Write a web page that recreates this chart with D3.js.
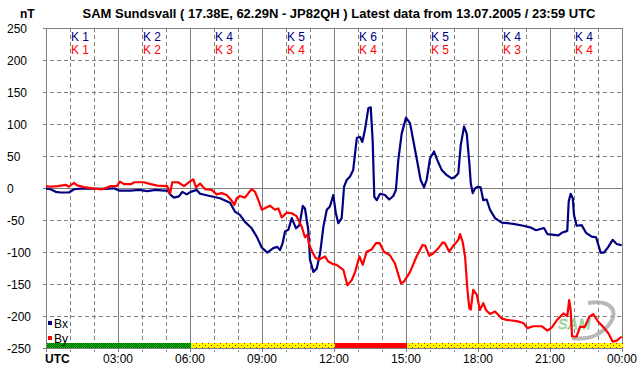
<!DOCTYPE html>
<html>
<head>
<meta charset="utf-8">
<script src="https://cdn.jsdelivr.net/npm/d3@7"></script>
<style>
  body { margin: 0; background: #fff; }
  text { font-family: Arial, "Liberation Sans", sans-serif; }
</style>
</head>
<body>
<script>
var bxHours = [0,0.19,0.4,0.61,0.96,1.17,1.44,1.86,2.35,2.83,3.04,3.52,3.88,4.22,4.57,4.92,5.08,5.17,5.33,5.54,5.68,5.86,
  6.03,6.28,6.42,6.83,7.25,7.67,7.875,8.08,8.29,8.57,8.78,8.99,9.22,9.47,9.64,9.75,9.86,9.96,10.1,10.24,10.42,10.56,10.7,10.79,10.93,
  11.0,11.14,11.28,11.42,11.56,11.7,11.83,11.97,12.08,12.18,12.32,12.42,12.53,12.67,12.8,12.95,13.08,13.18,13.29,13.43,13.53,13.61,
  13.68,13.78,13.92,14.12,14.3,14.47,14.58,14.68,14.82,15.0,15.17,15.3,15.47,15.61,15.75,15.86,16.0,16.17,16.3,16.49,16.7,16.9,
  17.04,17.18,17.28,17.42,17.53,17.64,17.7,17.78,17.88,18.0,18.11,18.22,18.36,18.5,18.71,18.99,19.47,19.89,20.17,20.42,20.75,20.89,
  21.35,21.49,21.72,21.78,21.86,21.95,22.0,22.11,22.32,22.5,22.74,22.92,23.11,23.25,23.43,23.61,23.78,23.99];
var bxValues = [-1,-2,-6,-7,-7,-2,-1,-1,-1.5,-0.5,-4,-4,-3,-5,-3,-4,-4,-10,-15,-13,-6,-10,
  -6,-3,-9,-12.5,-16,-23,-37,-42,-53,-63,-76,-93,-101,-94,-92,-97,-86,-68,-65,-47,-63,-58,-28,-32,-66,
  -112,-131,-126,-102,-60,-34,-29,-11,-40,-55,-47,2,12.5,18,28,78,80,72,91,124.5,126,75,
  -14,-19,-9,-11,-18,-12.5,-3,44,85,110,101,75,41,12.5,1,12.5,46,57,44,28,20,15,
  17,23,67,96,85,38.5,7,-8,-0.5,2,1,-19,-18,-34,-47,-54,-56,-59,-61.5,-66,-62.5,-72,
  -74,-70,-67,-21,-9,-16,-42,-59,-58,-70,-76,-77,-101,-101,-92,-81,-87.5,-89.5];

var byHours = [0,0.22,0.5,0.82,0.95,1.17,1.3,1.58,2.0,2.35,2.69,2.95,3.08,3.25,3.55,3.67,4.08,4.36,4.64,5.05,5.17,5.26,5.5,5.75,
  6.03,6.14,6.25,6.42,6.63,6.9,7.11,7.32,7.53,7.74,7.85,7.95,8.08,8.29,8.57,8.71,8.85,8.99,9.2,9.33,9.54,9.68,9.82,10.03,10.24,10.44,
  10.65,10.79,10.89,10.97,11.11,11.25,11.42,11.63,11.76,11.97,12.11,12.39,12.56,12.74,12.88,13.06,13.2,13.36,13.57,13.75,13.9,
  14.08,14.33,14.54,14.79,14.92,15.17,15.44,15.69,15.8,15.97,16.14,16.35,16.53,16.62,16.8,17.0,17.18,17.25,17.36,17.46,17.56,
  17.64,17.7,17.8,17.95,18.08,18.22,18.33,18.5,18.71,18.99,19.2,19.61,19.89,20.06,20.3,20.65,20.89,21.07,21.3,21.56,21.72,21.8,
  21.86,21.92,22.11,22.25,22.45,22.64,22.8,23.01,23.22,23.43,23.61,23.78,23.99];
var byValues = [3,2,3,5,2,8,4,1.5,-1,-2,3,3,10,6,6,9,9,6,3.6,3,-9,9,9,3,
  11,13.6,1,7,-2,-3,-10,-8,-11,-20,-26.5,-16,-12.5,-15,-1.6,-6,-19,-34,-30,-27.6,-34,-32,-46,-38.5,-39.5,-44,
  -60,-77,-73,-89,-101,-110,-111,-107,-115,-119,-120,-128,-152,-144,-131,-107,-120,-99.5,-96,-86,-86,
  -99.5,-105,-118,-149,-146,-131,-107,-89,-90,-106,-102,-94,-85,-86,-99.5,-89,-81,-72,-84,-107,-159,
  -188,-190,-159,-167,-190.6,-180,-190.6,-197,-193,-204,-206,-208,-211,-219,-216,-216,-223,-218,-206,-196,-200,-175,
  -190.6,-232,-232,-217,-217,-201,-197,-209,-217,-227,-240,-238.5,-232];

var kBx = [1, 2, 4, 5, 6, 5, 4, 4];
var kBy = [1, 2, 3, 4, 4, 5, 3, 4];
var xTickLabels = ["UTC", "03:00", "06:00", "09:00", "12:00", "15:00", "18:00", "21:00", "00:00"];
var yTicks = [250, 200, 150, 100, 50, 0, -50, -100, -150, -200, -250];
var titleText = "SAM Sundsvall ( 17.38E, 62.29N - JP82QH ) Latest data from 13.07.2005 / 23:59 UTC";

function init(){
    var w = 642;
    var h = 376;
    var left = 46, right = 622, top = 28, bottom = 348;
    var grey = "#808080";

    var xScale = d3.scaleLinear().domain([0, 24]).range([left, right]);
    var yScale = d3.scaleLinear().domain([-250, 250]).range([bottom, top]);

    var svg = d3.select("body")
                .append("svg")
                .attr("width", w)
                .attr("height", h);

    var defs = svg.append("defs");
    var pg = defs.append("pattern").attr("id", "greenHatch")
                 .attr("width", 2).attr("height", 2).attr("patternUnits", "userSpaceOnUse");
    pg.append("rect").attr("width", 2).attr("height", 2).attr("fill", "#00c000");
    pg.append("rect").attr("width", 1).attr("height", 1).attr("fill", "#006000");
    pg.append("rect").attr("x", 1).attr("y", 1).attr("width", 1).attr("height", 1).attr("fill", "#006000");
    var py = defs.append("pattern").attr("id", "yellowDots")
                 .attr("width", 6).attr("height", 4).attr("patternUnits", "userSpaceOnUse");
    py.append("rect").attr("width", 6).attr("height", 4).attr("fill", "#ffff00");
    py.append("rect").attr("x", 1).attr("y", 1).attr("width", 1).attr("height", 1).attr("fill", "#ff0000");
    py.append("rect").attr("x", 4).attr("y", 3).attr("width", 1).attr("height", 1).attr("fill", "#ff0000");

    // title
    svg.append("text").attr("x", 339).attr("y", 18)
       .attr("text-anchor", "middle").attr("font-size", 13).attr("font-weight", "bold")
       .text(titleText);
    svg.append("text").attr("x", 20).attr("y", 18)
       .attr("font-size", 12).attr("font-weight", "bold").text("nT");

    // grid
    var hours = d3.range(0, 25);
    svg.append("g").selectAll("line")
       .data(hours.filter(function(d) { return d % 3 !== 0; }))
       .enter().append("line")
       .attr("x1", function(d) { return xScale(d) + 0.5; })
       .attr("x2", function(d) { return xScale(d) + 0.5; })
       .attr("y1", top).attr("y2", bottom + 4)
       .attr("stroke", grey).attr("stroke-dasharray", "4,3");
    svg.append("g").selectAll("line")
       .data(yTicks.filter(function(d) { return d !== 0 && d !== 250 && d !== -250; }))
       .enter().append("line")
       .attr("x1", left - 3).attr("x2", right)
       .attr("y1", function(d) { return yScale(d) + 0.5; })
       .attr("y2", function(d) { return yScale(d) + 0.5; })
       .attr("stroke", grey).attr("stroke-dasharray", "4,3");
    svg.append("g").selectAll("line")
       .data(hours.filter(function(d) { return d % 3 === 0; }))
       .enter().append("line")
       .attr("x1", function(d) { return xScale(d) + 0.5; })
       .attr("x2", function(d) { return xScale(d) + 0.5; })
       .attr("y1", top).attr("y2", bottom + 4)
       .attr("stroke", grey);
    svg.append("g").selectAll("line")
       .data([250, 0, -250])
       .enter().append("line")
       .attr("x1", left - 3).attr("x2", right + 0.5)
       .attr("y1", function(d) { return yScale(d) + 0.5; })
       .attr("y2", function(d) { return yScale(d) + 0.5; })
       .attr("stroke", grey);

    // y labels
    svg.append("g").selectAll("text")
       .data(yTicks).enter().append("text")
       .attr("x", 7).attr("y", function(d) { return yScale(d) + 4.5; })
       .attr("font-size", 12).text(function(d) { return d; });

    // x labels
    svg.append("g").selectAll("text")
       .data(xTickLabels).enter().append("text")
       .attr("x", function(d, i) { return i === 0 ? left - 1 : xScale(i * 3); })
       .attr("y", 363)
       .attr("text-anchor", function(d, i) { return i === 0 ? "start" : "middle"; })
       .attr("font-weight", function(d, i) { return i === 0 ? "bold" : "normal"; })
       .attr("font-size", 12).text(function(d) { return d; });

    // K indices
    var kg = svg.append("g");
    kg.selectAll("text.kx").data(kBx).enter().append("text")
      .attr("x", function(d, i) { return xScale(i * 3 + 1.5) - 2; }).attr("y", 41)
      .attr("text-anchor", "middle").attr("font-size", 12).attr("fill", "#000080")
      .text(function(d) { return "K " + d; });
    kg.selectAll("text.ky").data(kBy).enter().append("text")
      .attr("x", function(d, i) { return xScale(i * 3 + 1.5) - 2; }).attr("y", 54)
      .attr("text-anchor", "middle").attr("font-size", 12).attr("fill", "#ff0000")
      .text(function(d) { return "K " + d; });

    // activity bar
    svg.append("g").selectAll("rect")
       .data(kBx).enter().append("rect")
       .attr("x", function(d, i) { return xScale(i * 3) + 1; })
       .attr("width", xScale(3) - xScale(0))
       .attr("y", bottom - 5).attr("height", 5)
       .attr("fill", function(d, i) {
            var k = Math.max(d, kBy[i]);
            if (k >= 6) return "#ff0000";
            if (k >= 4) return "url(#yellowDots)";
            return "url(#greenHatch)";
       });

    // logo watermark
    var logo = svg.append("g").attr("opacity", 0.8);
    logo.append("path")
        .attr("d", "M588,303 C612,299 620,312 608,326 C598,337 585,340 572,338")
        .attr("fill", "none").attr("stroke", "#a8a8a8").attr("stroke-width", 4);
    logo.append("text").attr("x", 558).attr("y", 329)
        .attr("font-size", 14).attr("font-style", "italic")
        .attr("fill", "#eef7ee").attr("stroke", "#70c070").attr("stroke-width", 0.8)
        .attr("letter-spacing", 1)
        .text("SAM");

    // lines
    var line = d3.line()
                 .x(function(d) { return xScale(d[0]); })
                 .y(function(d) { return yScale(d[1]); });
    var bx = bxHours.map(function(t, i) { return [t, bxValues[i]]; });
    var by = byHours.map(function(t, i) { return [t, byValues[i]]; });
    svg.append("path").datum(bx).attr("d", line)
       .attr("fill", "none").attr("stroke", "#000080").attr("stroke-width", 2.2)
       .attr("stroke-linejoin", "round");
    svg.append("path").datum(by).attr("d", line)
       .attr("fill", "none").attr("stroke", "#ff0000").attr("stroke-width", 2.2)
       .attr("stroke-linejoin", "round");

    // legend
    var legend = svg.append("g");
    legend.selectAll("rect").data([["Bx", "#000080"], ["By", "#ff0000"]]).enter().append("rect")
          .attr("x", 48).attr("y", function(d, i) { return 321 + i * 15; })
          .attr("width", 4).attr("height", 4).attr("fill", function(d) { return d[1]; });
    legend.selectAll("text").data(["Bx", "By"]).enter().append("text")
          .attr("x", 54).attr("y", function(d, i) { return 328 + i * 15; })
          .attr("font-size", 12).text(function(d) { return d; });
}
window.onload = init;
</script>
</body>
</html>
